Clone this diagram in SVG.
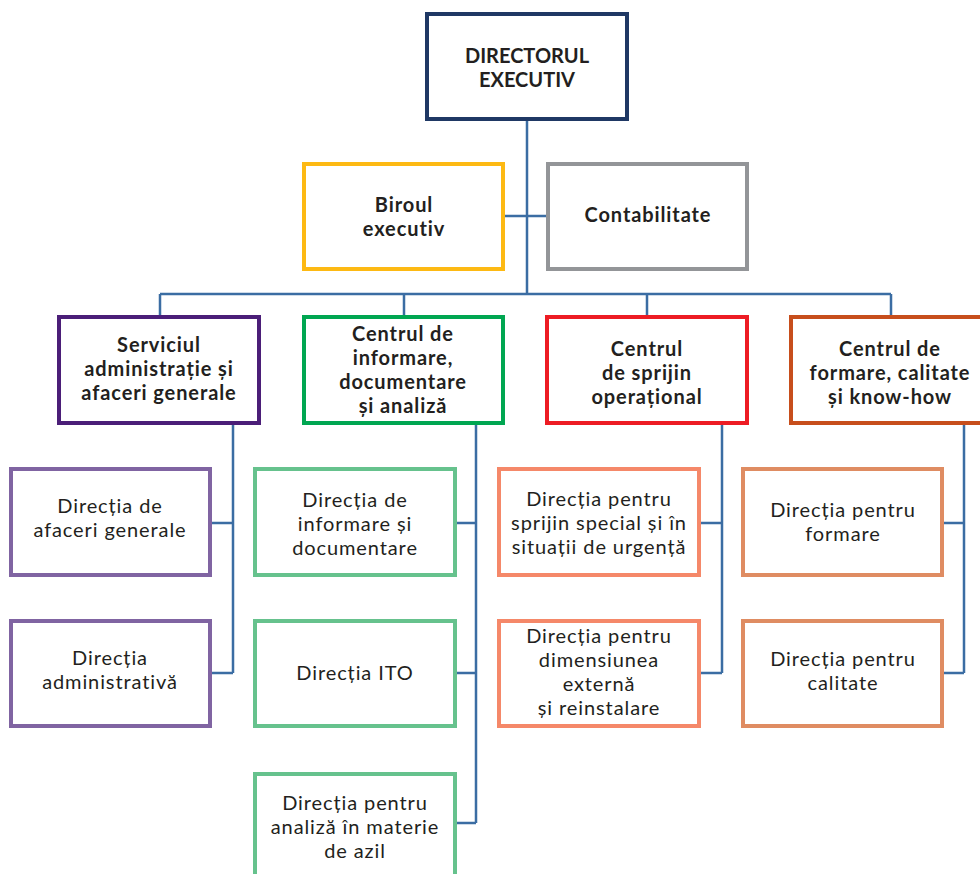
<svg xmlns="http://www.w3.org/2000/svg" width="980" height="874" viewBox="0 0 980 874">
<style>
rect{fill:#fff;stroke-width:4}
text{font-family:Lato,"Noto Sans",sans-serif;fill:#231f20;text-anchor:middle;font-size:20px}
.b{font-weight:bold;letter-spacing:0.9px}
.d{font-weight:bold}
.r{letter-spacing:0.9px}
.c{fill:none;stroke:#3b6da3;stroke-width:2.5}
</style>
<rect width="980" height="874" style="fill:#fff;stroke:none"/>
<g id="connectors">
<path class="c" d="M527 121V294M505 216H546M160 294H891M160 294V317M404 294V317M647 294V317M891 294V317"/>
<path class="c" d="M233 425V673M212 523H233M212 673H233"/>
<path class="c" d="M476 425V823M457 523H476M457 673H476M457 823H476"/>
<path class="c" d="M722 425V673M701 523H722M701 673H722"/>
<path class="c" d="M964 425V673M944 523H964M944 673H964"/>
</g>
<g id="director"><rect x="427" y="14" width="200" height="105" stroke="#1f3864"/><text class="d" x="527" y="63">DIRECTORUL</text><text class="d" x="527" y="87">EXECUTIV</text></g>
<g id="biroul"><rect x="304" y="164" width="199" height="105" stroke="#fdb913"/><text class="b" x="404" y="212">Biroul</text><text class="b" x="404" y="236">executiv</text></g>
<g id="contabilitate"><rect x="548" y="164" width="199" height="105" stroke="#939598"/><text class="b" x="648" y="222">Contabilitate</text></g>
<g id="serviciul"><rect x="59" y="317" width="200" height="106" stroke="#4b1e78"/><text class="b" x="159" y="352">Serviciul</text><text class="b" x="159" y="376">administrație și</text><text class="b" x="159" y="400">afaceri generale</text></g>
<g id="centrul-informare"><rect x="304" y="317" width="199" height="106" stroke="#00a651"/><text class="b" x="403" y="341">Centrul de</text><text class="b" x="403" y="365">informare,</text><text class="b" x="403" y="389">documentare</text><text class="b" x="403" y="413">și analiză</text></g>
<g id="centrul-sprijin"><rect x="547" y="317" width="200" height="106" stroke="#ed1c24"/><text class="b" x="647" y="356">Centrul</text><text class="b" x="647" y="380">de sprijin</text><text class="b" x="647" y="404">operațional</text></g>
<g id="centrul-formare"><rect x="791" y="317" width="200" height="106" stroke="#c74e1c"/><text class="b" x="890" y="356">Centrul de</text><text class="b" x="890" y="380">formare, calitate</text><text class="b" x="890" y="404">și know-how</text></g>
<g id="dir-afaceri"><rect x="11" y="469" width="199" height="106" stroke="#8064a2"/><text class="r" x="110" y="513">Direcția de</text><text class="r" x="110" y="537">afaceri generale</text></g>
<g id="dir-administrativa"><rect x="11" y="621" width="199" height="105" stroke="#8064a2"/><text class="r" x="110" y="665">Direcția</text><text class="r" x="110" y="689">administrativă</text></g>
<g id="dir-informare"><rect x="255" y="469" width="200" height="106" stroke="#66c28d"/><text class="r" x="355" y="507">Direcția de</text><text class="r" x="355" y="531">informare și</text><text class="r" x="355" y="555">documentare</text></g>
<g id="dir-ito"><rect x="255" y="621" width="200" height="105" stroke="#66c28d"/><text class="r" x="355" y="680">Direcția ITO</text></g>
<g id="dir-analiza"><rect x="255" y="774" width="200" height="106" stroke="#66c28d"/><text class="r" x="355" y="810">Direcția pentru</text><text class="r" x="355" y="834">analiză în materie</text><text class="r" x="355" y="858">de azil</text></g>
<g id="dir-sprijin"><rect x="499" y="469" width="200" height="106" stroke="#f58869"/><text class="r" x="599" y="506">Direcția pentru</text><text class="r" x="599" y="530">sprijin special și în</text><text class="r" x="599" y="554">situații de urgență</text></g>
<g id="dir-externa"><rect x="499" y="621" width="200" height="105" stroke="#f58869"/><text class="r" x="599" y="643">Direcția pentru</text><text class="r" x="599" y="667">dimensiunea</text><text class="r" x="599" y="691">externă</text><text class="r" x="599" y="715">și reinstalare</text></g>
<g id="dir-formare"><rect x="743" y="469" width="199" height="106" stroke="#df8c62"/><text class="r" x="843" y="517">Direcția pentru</text><text class="r" x="843" y="541">formare</text></g>
<g id="dir-calitate"><rect x="743" y="621" width="199" height="105" stroke="#df8c62"/><text class="r" x="843" y="666">Direcția pentru</text><text class="r" x="843" y="690">calitate</text></g>
</svg>
